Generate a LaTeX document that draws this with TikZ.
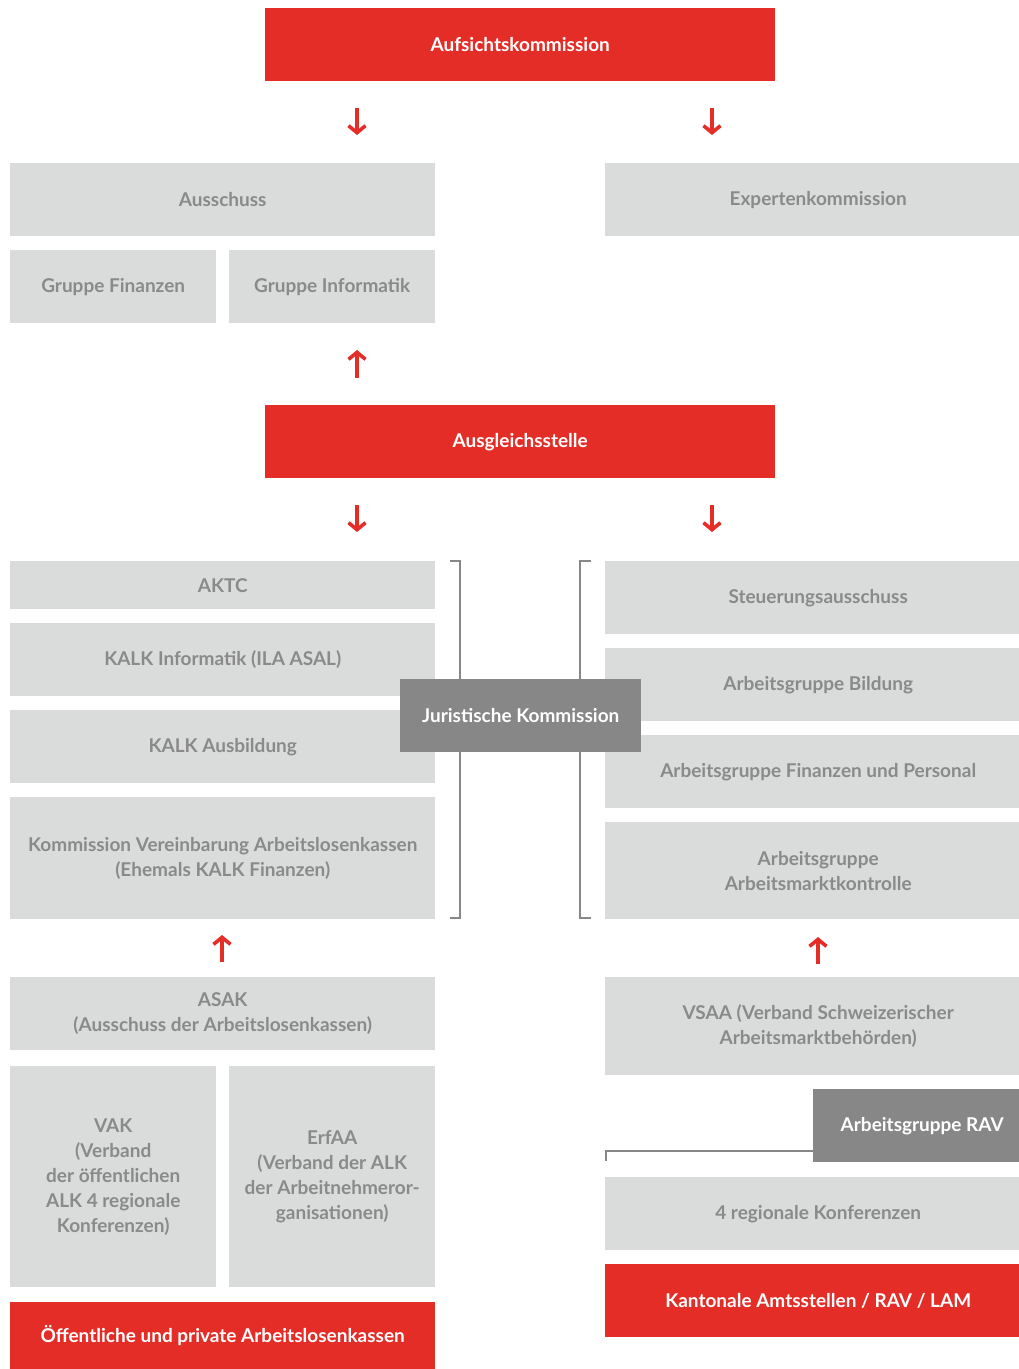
\documentclass[tikz,border=0pt]{standalone}
\usepackage{fontspec}
\setmainfont{Lato}
\usetikzlibrary{arrows.meta}
\definecolor{akred}{HTML}{E52D27}
\definecolor{akgrey}{HTML}{DADBDB}
\definecolor{aktext}{HTML}{8A8A8A}
\definecolor{akdark}{HTML}{878787}
\begin{document}
\begin{tikzpicture}[x=1pt,y=-1pt]
\tikzstyle{every node}=[inner sep=0pt, anchor=north west, align=center, font=\fontsize{19}{25}\selectfont\bfseries]
\tikzstyle{box}=[fill=akgrey, text=aktext]
\tikzstyle{head}=[fill=akred, text=white]
\tikzstyle{jur}=[fill=akdark, text=white]
\tikzstyle{pfeil}=[draw=akred, line width=3.2pt, -{Straight Barb[length=7pt,width=17pt,line width=3.6pt]}]
\tikzstyle{klammer}=[draw=akdark, line width=2pt]
\useasboundingbox (0,0) rectangle (1019,1369);
% top
\node (auf) [head, minimum width=510, minimum height=73] at (265,8) {Aufsichtskommission};
\node (aus) [box, minimum width=425, minimum height=73] at (10,163) {Ausschuss};
\node (exp) [box, minimum width=426, minimum height=73] at (605,163) {Expertenkommission};
\node (gfin) [box, minimum width=206, minimum height=73] at (10,250) {Gruppe Finanzen};
\node (ginf) [box, minimum width=206, minimum height=73] at (229,250) {Gruppe Informatik};
\node (ausg) [head, minimum width=510, minimum height=73] at (265,405) {Ausgleichsstelle};
% left column
\node (aktc) [box, minimum width=425, minimum height=48] at (10,561) {AKTC};
\node (kinf) [box, minimum width=425, minimum height=73] at (10,623) {KALK Informatik (ILA ASAL)};
\node (kaus) [box, minimum width=425, minimum height=73] at (10,710) {KALK Ausbildung};
\node (kva) [box, minimum width=425, minimum height=122] at (10,797) {Kommission Vereinbarung Arbeitslosenkassen\\(Ehemals KALK Finanzen)};
\node (asak) [box, minimum width=425, minimum height=73] at (10,977) {ASAK\\(Ausschuss der Arbeitslosenkassen)};
\node (vak) [box, minimum width=206, minimum height=221] at (10,1066) {VAK\\(Verband\\der öffentlichen\\ALK 4 regionale\\Konferenzen)};
\node (erfaa) [box, minimum width=206, minimum height=221] at (229,1066) {ErfAA\\(Verband der ALK\\der Arbeitnehmeror-\\ganisationen)};
\node (alk) [head, minimum width=425, minimum height=67] at (10,1302) {Öffentliche und private Arbeitslosenkassen};
% right column
\node (steu) [box, minimum width=426, minimum height=73] at (605,561) {Steuerungsausschuss};
\node (agb) [box, minimum width=426, minimum height=73] at (605,648) {Arbeitsgruppe Bildung};
\node (agf) [box, minimum width=426, minimum height=73] at (605,735) {Arbeitsgruppe Finanzen und Personal};
\node (agm) [box, minimum width=426, minimum height=97] at (605,822) {Arbeitsgruppe\\Arbeitsmarktkontrolle};
\node (vsaa) [box, minimum width=426, minimum height=98] at (605,977) {VSAA (Verband Schweizerischer\\Arbeitsmarktbehörden)};
\node (konf) [box, minimum width=426, minimum height=73] at (605,1177) {4 regionale Konferenzen};
\node (kant) [head, minimum width=426, minimum height=73] at (605,1264) {Kantonale Amtsstellen / RAV / LAM};
% arrows
\coordinate (p1a) at (357,108); \coordinate (p1b) at (357,135);
\coordinate (p2a) at (712,108); \coordinate (p2b) at (712,135);
\coordinate (p3a) at (357,378); \coordinate (p3b) at (357,350);
\coordinate (p4a) at (357,505); \coordinate (p4b) at (357,532);
\coordinate (p5a) at (712,505); \coordinate (p5b) at (712,532);
\coordinate (p6a) at (222,962); \coordinate (p6b) at (222,935);
\coordinate (p7a) at (818,964); \coordinate (p7b) at (818,937);
\draw[pfeil] (p1a) -- (p1b);
\draw[pfeil] (p2a) -- (p2b);
\draw[pfeil] (p3a) -- (p3b);
\draw[pfeil] (p4a) -- (p4b);
\draw[pfeil] (p5a) -- (p5b);
\draw[pfeil] (p6a) -- (p6b);
\draw[pfeil] (p7a) -- (p7b);
% brackets
\node (jk) [jur, minimum width=241, minimum height=73] at (400,679) {Juristische Kommission};
\coordinate (lk1) at (450,561); \coordinate (lk2) at (460,561);
\coordinate (lk3) at (450,918); \coordinate (lk4) at (460,918);
\coordinate (rk1) at (591,561); \coordinate (rk2) at (580,561);
\coordinate (rk3) at (591,918); \coordinate (rk4) at (580,918);
\draw[klammer] (lk1) -- (lk2) -- (lk2 |- jk.north);
\draw[klammer] (lk3) -- (lk4) -- (lk4 |- jk.south);
\draw[klammer] (rk1) -- (rk2) -- (rk2 |- jk.north);
\draw[klammer] (rk3) -- (rk4) -- (rk4 |- jk.south);
% RAV
\coordinate (rv1) at (606,1161); \coordinate (rv2) at (606,1151);
\draw[klammer] (rv1) -- (rv2) -- (rv2 -| 813,0);
\node (rav) [jur, minimum width=218, minimum height=73] at (813,1089) {Arbeitsgruppe RAV};
\end{tikzpicture}
\end{document}
